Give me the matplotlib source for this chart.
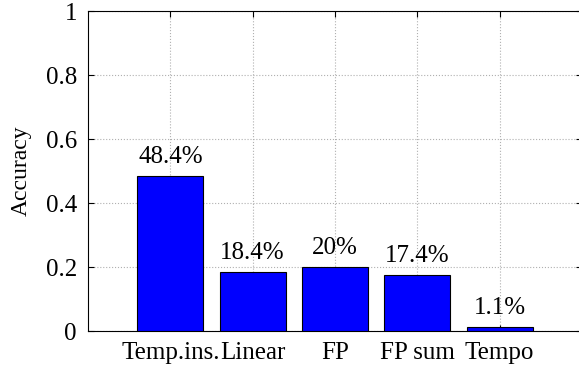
import matplotlib.pyplot as plt

plt.rcParams['font.family'] = ['Liberation Serif', 'DejaVu Serif']

methods = ['Temp.ins.', 'Linear', 'FP', 'FP sum', 'Tempo']
accuracy = [0.484, 0.184, 0.20, 0.174, 0.011]
labels = ['48.4%', '18.4%', '20%', '17.4%', '1.1%']

fig = plt.figure(figsize=(5.79, 3.75), dpi=100)
ax = fig.add_axes([88 / 579, 44 / 375, 494 / 579, 320 / 375])

x = range(1, len(methods) + 1)
ax.bar(x, accuracy, width=0.8, color='#0000ff', edgecolor='black', linewidth=0.8, zorder=3)

for xi, v, lab in zip(x, accuracy, labels):
    ax.text(xi, v + 0.025, lab, ha='center', va='bottom', fontsize=18, zorder=4)

ax.set_xlim(0, 6)
ax.set_ylim(0, 1)
ax.set_xticks(list(x))
ax.set_xticklabels(methods, fontsize=18)
ax.set_yticks([0, 0.2, 0.4, 0.6, 0.8, 1])
ax.set_yticklabels(['0', '0.2', '0.4', '0.6', '0.8', '1'], fontsize=18)
ax.set_ylabel('Accuracy', fontsize=17, labelpad=10)

ax.grid(True, linestyle=':', color='#b0b0b0', linewidth=0.8, zorder=0)
ax.tick_params(direction='in', length=4, top=True, right=True, pad=8)
ax.spines['right'].set_visible(False)

fig.savefig('out.png', dpi=100)
